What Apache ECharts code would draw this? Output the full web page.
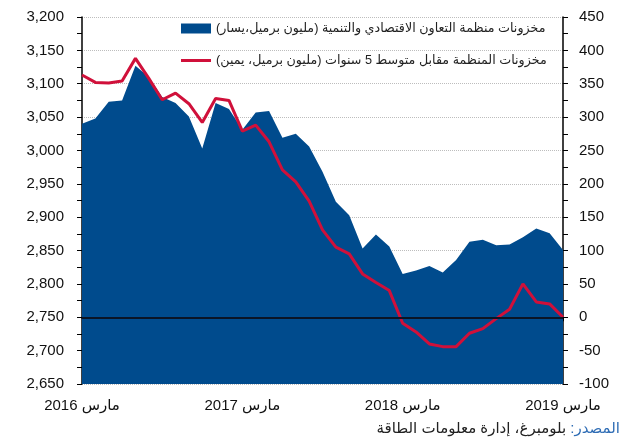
<!DOCTYPE html>
<html>
<head>
<meta charset="utf-8">
<script src="https://cdn.jsdelivr.net/npm/echarts@6/dist/echarts.min.js"></script>
<style>
  html, body { margin: 0; padding: 0; background: #fff; }
  #chart { width: 642px; height: 445px; }
</style>
</head>
<body>
<div id="chart"></div>
<script>
// Mar 2016 .. Mar 2019, monthly
const xLabels = ['مارس 2016', 'مارس 2017', 'مارس 2018', 'مارس 2019'];
const stocks = [3040, 3048, 3073, 3075, 3127, 3110, 3080, 3071, 3051, 3003, 3071, 3062,
  3031, 3057, 3059, 3019, 3025, 3006, 2968, 2923, 2903, 2853, 2874, 2856,
  2815, 2820, 2827, 2817, 2836, 2863, 2866, 2858, 2859, 2870, 2883, 2876, 2851];
const vsAvg = [363, 352, 351, 354, 388, 358, 326, 336, 320, 292, 328, 325,
  279, 288, 263, 221, 203, 174, 131, 105, 95, 65, 52, 40,
  -9, -22, -40, -44, -44, -24, -17, -2, 12, 50, 23, 20, 0];
const seriesNames = [
  'مخزونات منظمة التعاون الاقتصادي والتنمية (مليون برميل،يسار)\u200F',
  'مخزونات المنظمة مقابل متوسط 5 سنوات (مليون برميل، يمين)\u200F'
];

const FONT = "'Liberation Sans', Arial, 'DejaVu Sans', sans-serif";
const BLUE = '#004b8d';
const RED = '#d0103a';

const chart = echarts.init(document.getElementById('chart'));

const fmt = v => v.toLocaleString('en-US');

chart.setOption({
  animation: false,
  textStyle: { fontFamily: FONT },
  grid: { left: 82, right: 79, top: 17, bottom: 61 },
  legend: {
    orient: 'vertical',
    left: 176,
    top: 17,
    itemWidth: 30,
    itemHeight: 10,
    itemGap: 19,
    textStyle: { fontSize: 12.7, color: '#222', fontFamily: FONT },
    data: [
      { name: seriesNames[0], icon: 'rect' },
      { name: seriesNames[1], icon: 'path://M0,0H30V3H0Z' }
    ]
  },
  xAxis: {
    type: 'value',
    min: 0,
    max: stocks.length - 1,
    interval: 12,
    axisLine: { lineStyle: { color: '#000', width: 1.5 } },
    axisTick: { length: 4, lineStyle: { color: '#000' } },
    minorTick: { show: true, splitNumber: 24, length: 4, lineStyle: { color: '#000' } },
    splitLine: { show: false },
    axisLabel: {
      margin: 14,
      fontSize: 15,
      color: '#111',
      formatter: v => xLabels[v / 12] || ''
    }
  },
  yAxis: [
    {
      type: 'value',
      min: 2650,
      max: 3200,
      interval: 50,
      axisLine: { show: true, lineStyle: { color: '#000', width: 1.5 } },
      axisTick: { show: true, length: 5, lineStyle: { color: '#000' } },
      minorTick: { show: true, splitNumber: 2, length: 5, lineStyle: { color: '#000' } },
      splitLine: { show: true, lineStyle: { color: '#bdbdbd', type: 'dotted', width: 1 } },
      axisLabel: { margin: 18, fontSize: 15, color: '#111', formatter: fmt }
    },
    {
      type: 'value',
      min: -100,
      max: 450,
      interval: 50,
      position: 'right',
      axisLine: { show: true, lineStyle: { color: '#000', width: 1.5 } },
      axisTick: { show: true, length: 5, lineStyle: { color: '#000' } },
      minorTick: { show: true, splitNumber: 2, length: 5, lineStyle: { color: '#000' } },
      splitLine: { show: false },
      axisLabel: { margin: 16, fontSize: 15, color: '#111' }
    }
  ],
  series: [
    {
      name: seriesNames[0],
      type: 'line',
      yAxisIndex: 0,
      data: stocks.map((v, i) => [i, v]),
      symbol: 'none',
      color: BLUE,
      lineStyle: { width: 0, color: BLUE },
      areaStyle: { color: BLUE, opacity: 1, origin: 'start' },
      z: 2,
      markLine: {
        silent: true,
        symbol: 'none',
        label: { show: false },
        lineStyle: { color: '#0b1526', width: 2, type: 'solid' },
        data: [{ yAxis: 2750 }]
      }
    },
    {
      name: seriesNames[1],
      type: 'line',
      yAxisIndex: 1,
      data: vsAvg.map((v, i) => [i, v]),
      symbol: 'none',
      color: RED,
      lineStyle: { width: 3, color: RED },
      z: 3
    }
  ],
  graphic: [
    {
      type: 'text',
      right: 22,
      top: 421,
      style: {
        text: '{b|بلومبرغ، إدارة معلومات الطاقة }{s|المصدر:\u200F}',
        rich: {
          b: { fontSize: 15, fill: '#222', fontFamily: FONT },
          s: { fontSize: 15, fill: '#2f6db5', fontFamily: FONT }
        }
      }
    }
  ]
});
</script>
</body>
</html>
